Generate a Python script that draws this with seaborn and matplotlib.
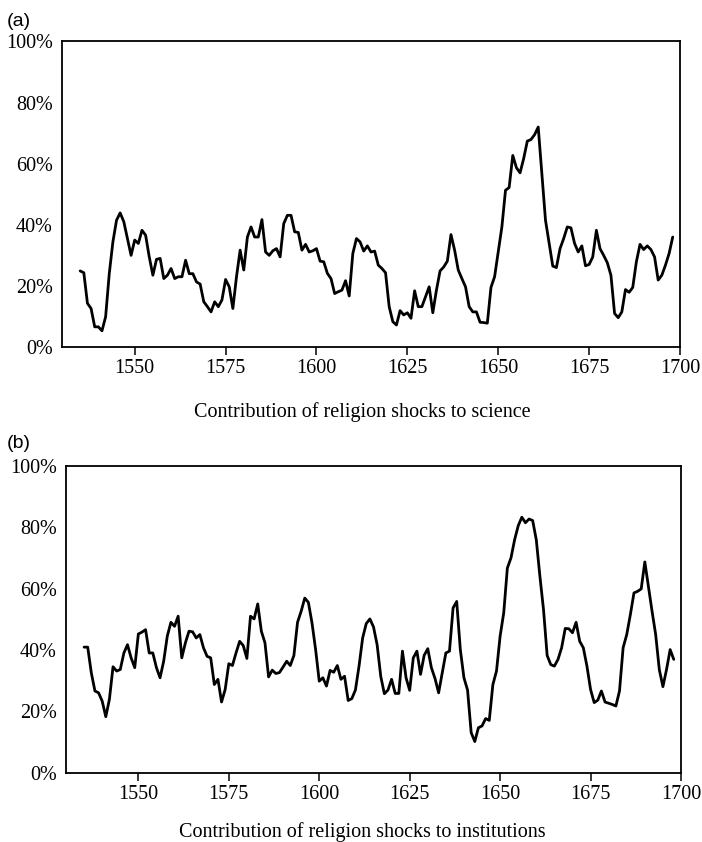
import numpy as np
import pandas as pd
import matplotlib
matplotlib.use("Agg")
import matplotlib.pyplot as plt
import seaborn as sns

years = list(range(1535, 1699))

science = [
    24.9, 24.3, 14.3, 12.6, 6.6, 6.6, 5.3, 9.9, 24.0, 34.4,
    41.5, 43.9, 41.0, 35.5, 30.0, 35.0, 33.9, 38.2, 36.6, 29.5,
    23.5, 28.7, 29.0, 22.4, 23.5, 25.7, 22.4, 23.0, 23.0, 28.4,
    24.0, 24.0, 21.3, 20.6, 14.8, 13.2, 11.5, 14.8, 13.2, 15.4,
    22.1, 19.7, 12.6, 23.0, 31.7, 25.2, 36.0, 39.3, 36.0, 36.0,
    41.7, 31.1, 30.0, 31.5, 32.2, 29.5, 40.4, 43.1, 43.1, 37.7,
    37.5, 31.7, 33.6, 31.1, 31.5, 32.2, 28.1, 27.9, 24.1, 22.4,
    17.5, 18.1, 18.6, 21.7, 16.7, 30.6, 35.5, 34.4, 31.4, 33.1,
    31.1, 31.4, 26.8, 25.7, 24.3, 13.2, 8.3, 7.2, 11.9, 10.5,
    11.2, 9.4, 18.4, 13.2, 13.2, 16.4, 19.7, 11.2, 18.6, 24.9,
    26.2, 28.1, 36.8, 31.7, 25.2, 22.4, 19.7, 13.2, 11.5, 11.5,
    8.1, 8.0, 7.8, 19.5, 23.0, 31.1, 39.3, 51.3, 52.2, 62.7,
    58.7, 57.0, 61.7, 67.4, 67.9, 69.5, 72.0, 56.8, 41.5, 33.9,
    26.5, 26.0, 32.2, 35.5, 39.3, 39.0, 33.9, 31.1, 33.1, 26.6,
    27.0, 29.5, 38.2, 32.2, 30.0, 27.6, 23.5, 11.0, 9.6, 11.5,
    18.8, 17.9, 19.5, 27.9, 33.6, 31.9, 33.1, 31.9, 29.5, 21.9,
    23.5, 26.8, 30.6, 36.0,
]

institutions = [
    40.9, 40.9, 32.5, 26.6, 26.0, 23.3, 18.2, 23.9, 34.5, 33.1,
    33.6, 39.0, 41.7, 37.4, 34.2, 45.2, 45.8, 46.6, 39.0, 39.0,
    34.2, 30.9, 36.3, 44.5, 49.0, 47.7, 51.0, 37.4, 42.3, 46.1,
    45.9, 43.9, 45.0, 40.7, 37.9, 37.4, 28.7, 30.4, 23.0, 27.1,
    35.5, 34.9, 39.0, 42.8, 41.4, 37.2, 51.0, 50.1, 55.0, 46.1,
    42.3, 31.2, 33.4, 32.3, 32.6, 34.4, 36.3, 34.9, 38.2, 49.0,
    52.6, 56.9, 55.5, 48.8, 40.1, 29.8, 30.9, 28.2, 33.3, 32.7,
    34.9, 30.4, 31.4, 23.5, 24.1, 26.9, 34.7, 43.9, 48.6, 50.1,
    47.5, 41.7, 31.4, 25.7, 26.9, 30.4, 25.8, 25.8, 39.6, 30.9,
    26.8, 37.4, 39.6, 32.0, 38.2, 40.4, 34.2, 30.7, 26.0, 32.5,
    39.0, 39.6, 53.7, 55.8, 40.1, 30.9, 26.9, 13.0, 10.1, 14.6,
    15.2, 17.6, 17.0, 28.7, 33.1, 44.5, 52.1, 66.7, 70.0, 75.9,
    80.5, 83.3, 81.5, 82.7, 82.2, 75.9, 64.0, 53.1, 38.2, 35.2,
    34.7, 36.9, 40.7, 47.0, 46.9, 45.6, 49.0, 42.8, 40.7, 34.7,
    27.1, 22.8, 23.6, 26.6, 23.0, 22.6, 22.2, 21.7, 26.6, 40.7,
    45.0, 51.5, 58.6, 59.1, 59.9, 68.7, 60.7, 52.6, 45.0, 33.6,
    28.0, 33.6, 40.1, 36.9,
]

panel_labels = ["(a)", "(b)"]
x_titles = ["Contribution of religion shocks to science",
            "Contribution of religion shocks to institutions"]
x_ticks = [1550, 1575, 1600, 1625, 1650, 1675, 1700]
y_ticks = [0, 20, 40, 60, 80, 100]

sns.set_theme(style="white")
plt.rcParams["font.family"] = ["Liberation Serif", "DejaVu Serif"]

W, H = 702, 842
fig = plt.figure(figsize=(W / 100, H / 100), dpi=100)

# axes boxes in pixels: left, right, top, bottom
boxes = [(62, 680, 41.5, 347), (66, 681, 466, 772.5)]
label_pos = [(7, 22), (7, 443.5)]
xlabel_baseline = [417, 836.5]
xlabel_center = 362

series = [science, institutions]
for i in range(2):
    l, r, t, b = boxes[i]
    ax = fig.add_axes([l / W, 1 - b / H, (r - l) / W, (b - t) / H])
    df = pd.DataFrame({"year": years, "value": series[i]})
    sns.lineplot(data=df, x="year", y="value", ax=ax, color="black",
                 linewidth=2.0)
    ax.set_xlim(1530, 1700)
    ax.set_ylim(0, 100)
    ax.set_xticks(x_ticks)
    ax.set_xticklabels([str(v) for v in x_ticks])
    ax.set_yticks(y_ticks)
    ax.set_yticklabels([f"{v}%" for v in y_ticks])
    ax.tick_params(axis="x", direction="out", length=6, width=1.1,
                   color="black", pad=3, labelsize=14.5, labelcolor="black",
                   bottom=True)
    ax.tick_params(axis="y", length=0, pad=6.5, labelsize=14.5,
                   labelcolor="black", left=True)
    for s in ax.spines.values():
        s.set_visible(True)
        s.set_color("black")
        s.set_linewidth(1.3)
    ax.set_ylabel("")
    ax.set_xlabel(x_titles[i], fontsize=14.5, color="black", va="baseline")
    ax.xaxis.set_label_coords((xlabel_center - l) / (r - l),
                              -(xlabel_baseline[i] - b) / (b - t))
    fig.text(label_pos[i][0] / W, 1 - label_pos[i][1] / H, panel_labels[i],
             family=["Liberation Sans", "DejaVu Sans"], fontsize=14,
             ha="left", va="center", color="black")

fig.savefig("out.png", dpi=100)
